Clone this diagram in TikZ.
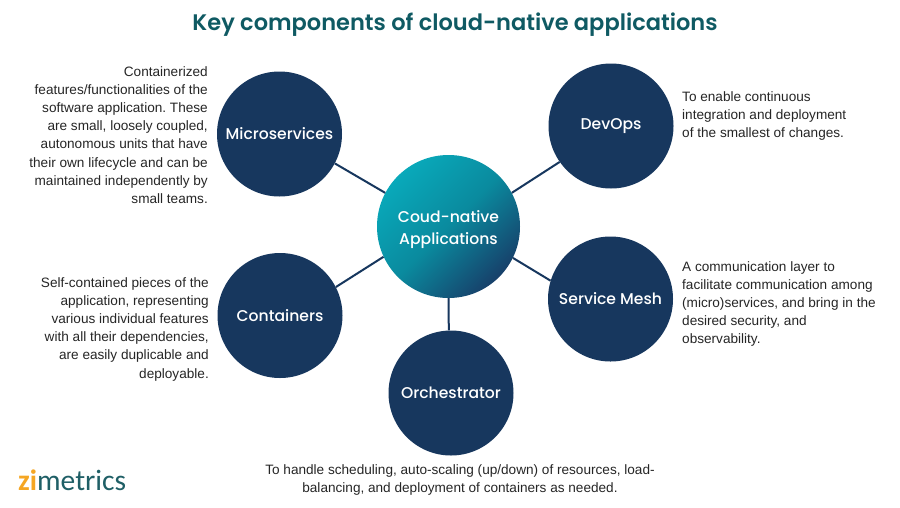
\documentclass[tikz,border=0pt]{standalone}
\usepackage{fontspec}
\setmainfont{Poppins}
\newfontfamily\bodyfont{Liberation Sans}
\newfontfamily\medfont{Poppins Medium}
\newfontfamily\semifont{Poppins SemiBold}
\newfontfamily\logofont{Carlito}
\definecolor{navy}{HTML}{17375E}
\definecolor{titleteal}{HTML}{0F5A63}
\definecolor{txt}{HTML}{262626}
\definecolor{tealA}{HTML}{09A9BA}
\definecolor{tealM}{HTML}{0A8A9E}
\definecolor{tealB}{HTML}{17406A}
\definecolor{logoG}{HTML}{1F5F66}
\definecolor{logoO}{HTML}{F5A623}
\tikzset{
 comp/.style={circle,fill=navy,minimum size=125pt,inner sep=0pt,text=white,font=\fontsize{15.6pt}{18pt}\medfont},
 hubnode/.style={circle,minimum size=143pt,inner sep=0pt,align=center,text=white,top color=tealA,bottom color=tealB,middle color=tealM,shading angle=45,font=\fontsize{15.6pt}{22pt}\medfont},
 link/.style={draw=navy,line width=2pt},
 note/.style={text=txt,font=\fontsize{13.6pt}{18.1pt}\bodyfont\frenchspacing,inner sep=0pt}
}
\begin{document}
\begin{tikzpicture}[x=1pt,y=-1pt]
\useasboundingbox (0,0) rectangle (900,507);
\fill[white] (0,0) rectangle (900,507);
\node[hubnode] (hub) at (448.5,226.5) {\rule{0pt}{18pt}Coud-native\\Applications};
\node[comp] (ms) at (279.5,134) {Microservices};
\node[comp] (dv) at (611,126) {DevOps};
\node[comp] (ct) at (280,315.5) {Containers};
\node[comp] (sm) at (610.5,299) {Service Mesh};
\node[comp] (or) at (451,393) {Orchestrator};
\draw[link] (hub.152) -- (ms.-28);
\draw[link] (hub.28) -- (dv.215);
\draw[link] (hub.205) -- (ct.27);
\draw[link] (hub.-26) -- (sm.163);
\draw[link] (hub.-90) -- (or.92);
\node[text=titleteal,font=\fontsize{22.5pt}{26pt}\semifont] (title) at (455,24.5) {Key components of cloud-native applications};
\node[note,align=right,anchor=north east] (n1) at (208,66.5) {Containerized\\features/functionalities of the\\software application. These\\are small, loosely coupled,\\autonomous units that have\\their own lifecycle and can be\\maintained independently by\\small teams.};
\node[note,align=right,anchor=north east] (n2) at (209,277.5) {Self-contained pieces of the\\application, representing\\various individual features\\with all their dependencies,\\are easily duplicable and\\deployable.};
\node[note,align=left,anchor=north west] (n3) at (682,91.5) {To enable continuous\\integration and deployment\\of the smallest of changes.};
\node[note,align=left,anchor=north west] (n4) at (682,261.5) {A communication layer to\\facilitate communication among\\(micro)services, and bring in the\\desired security, and\\observability.};
\node[note,align=center] (n5) at (460,480) {To handle scheduling, auto-scaling (up/down) of resources, load-\\balancing, and deployment of containers as needed.};
\node[anchor=west,inner sep=0pt,text=logoG,font=\fontsize{29.5pt}{32pt}\logofont] (logo) at (18,480) {{\color{logoO}\bfseries zi}metrics};
\end{tikzpicture}
\end{document}
